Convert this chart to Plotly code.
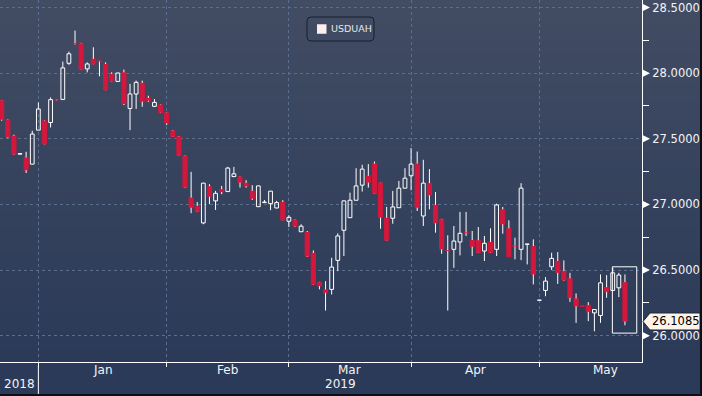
import plotly.graph_objects as go

# ---------------- data ----------------
opens = [27.790, 27.645, 27.523, 27.383, 27.357, 27.307, 27.566, 27.637, 27.624, 27.800,
         27.800, 28.075, 28.230, 28.227, 28.032, 28.108, 28.093, 28.070, 27.994, 27.937,
         28.006, 27.731, 27.841, 27.925, 27.811, 27.747, 27.759, 27.698, 27.561, 27.517,
         27.370, 27.052, 26.989, 26.859, 27.139, 27.027, 27.116, 27.098, 27.212, 27.210,
         27.164, 27.103, 26.983, 27.014, 27.006, 26.973, 27.019, 26.872, 26.882, 26.792,
         26.790, 26.630, 26.408, 26.353, 26.353, 26.574, 26.803, 26.899, 27.032, 27.147,
         27.218, 27.311, 27.164, 26.899, 26.895, 26.975, 27.124, 27.218, 27.311, 26.912,
         27.162, 26.996, 26.887, 26.653, 26.658, 26.714, 26.787, 26.729, 26.727, 26.645,
         26.714, 26.658, 26.963, 26.818, 26.686, 26.658, 26.696, 26.683, 26.270, 26.345,
         26.525, 26.569, 26.492, 26.437, 26.284, 26.228, 26.233, 26.174, 26.154, 26.370,
         26.345, 26.365, 26.408]
highs = [27.792, 27.648, 27.531, 27.390, 27.401, 27.561, 27.777, 27.640, 27.815, 27.802,
         28.088, 28.164, 28.324, 28.230, 28.082, 28.197, 28.095, 28.082, 28.006, 28.003,
         28.027, 27.918, 27.943, 27.943, 27.828, 27.803, 27.762, 27.700, 27.565, 27.520,
         27.373, 27.248, 27.019, 27.165, 27.154, 27.103, 27.141, 27.286, 27.286, 27.212,
         27.185, 27.147, 27.143, 27.034, 27.103, 27.027, 27.032, 26.918, 26.885, 26.849,
         26.798, 26.650, 26.410, 26.416, 26.594, 26.780, 27.030, 27.090, 27.276, 27.302,
         27.307, 27.327, 27.166, 26.981, 27.103, 27.179, 27.276, 27.429, 27.403, 27.340,
         27.269, 27.095, 26.890, 26.765, 26.836, 26.943, 26.943, 26.798, 26.828, 26.760,
         26.818, 27.006, 26.981, 26.879, 26.747, 27.162, 26.700, 26.734, 26.273, 26.447,
         26.632, 26.637, 26.574, 26.479, 26.322, 26.229, 26.256, 26.202, 26.467, 26.462,
         26.518, 26.479, 26.467]
lows = [27.637, 27.505, 27.380, 27.380, 27.240, 27.305, 27.565, 27.458, 27.586, 27.793,
        27.798, 28.063, 28.218, 28.025, 28.006, 28.068, 27.976, 27.870, 27.935, 27.935,
        27.757, 27.566, 27.727, 27.744, 27.782, 27.745, 27.696, 27.605, 27.515, 27.373,
        27.125, 26.933, 26.943, 26.849, 27.002, 26.958, 27.078, 27.095, 27.210, 27.128,
        27.128, 27.034, 26.980, 27.012, 26.956, 26.970, 26.880, 26.828, 26.830, 26.790,
        26.600, 26.388, 26.353, 26.192, 26.314, 26.492, 26.607, 26.897, 27.030, 27.098,
        27.128, 27.080, 26.815, 26.725, 26.853, 26.973, 27.122, 27.108, 26.950, 26.836,
        26.963, 26.785, 26.624, 26.192, 26.517, 26.612, 26.760, 26.607, 26.630, 26.569,
        26.630, 26.607, 26.777, 26.600, 26.582, 26.576, 26.543, 26.391, 26.268, 26.301,
        26.500, 26.395, 26.420, 26.258, 26.098, 26.221, 26.111, 26.034, 26.098, 26.289,
        26.343, 26.294, 26.080]
closes = [27.645, 27.510, 27.383, 27.387, 27.261, 27.536, 27.727, 27.460, 27.798, 27.795,
          28.040, 28.147, 28.224, 28.027, 28.070, 28.070, 28.087, 27.872, 27.937, 28.001,
          27.765, 27.841, 27.930, 27.782, 27.790, 27.777, 27.698, 27.617, 27.517, 27.375,
          27.128, 26.975, 26.945, 27.162, 27.059, 27.085, 27.095, 27.277, 27.233, 27.166,
          27.139, 27.044, 27.141, 27.018, 27.101, 27.014, 26.882, 26.902, 26.834, 26.834,
          26.604, 26.391, 26.378, 26.327, 26.523, 26.760, 27.027, 27.032, 27.141, 27.269,
          27.166, 27.082, 26.899, 26.727, 26.981, 27.124, 27.200, 27.307, 26.975, 27.162,
          27.070, 26.857, 26.658, 26.647, 26.721, 26.780, 26.781, 26.678, 26.632, 26.704,
          26.632, 26.996, 26.849, 26.601, 26.680, 27.124, 26.699, 26.467, 26.272, 26.416,
          26.589, 26.479, 26.424, 26.289, 26.225, 26.222, 26.182, 26.200, 26.403, 26.334,
          26.479, 26.462, 26.1085]

month_starts = [7, 28, 48, 68, 89]          # trading-day index of first session of each month
month_names = ["Jan", "Feb", "Mar", "Apr", "May"]
month_label_pos = [17.5, 38.0, 58.0, 78.5, 99.8]
year_names = ["2018", "2019"]
series_name = "USDUAH"
last_label = "26.1085"
y_ticks = [26.0, 26.5, 27.0, 27.5, 28.0, 28.5]

# ---------------- styling ----------------
RED = "#d4173c"
WHITE = "#ffffff"
TXT = "#f4f4f4"
GRID = "#5b6e8e"
FONT = "DejaVu Sans"
W, H = 702, 396
ML, MR, MT, MB = 0, 60, 0, 34
PW, PH = W - ML - MR, H - MT - MB
X_RANGE = [0.722, 105.79]
Y_RANGE = [25.80, 28.557]

idx = list(range(1, len(opens) + 1))
up = [i for i in range(len(opens)) if closes[i] >= opens[i]]
dn = [i for i in range(len(opens)) if closes[i] < opens[i]]

# wicks (above and below the body)
wx, wy = [], []
for i, (o, h, l, c) in enumerate(zip(opens, highs, lows, closes)):
    top, bot = max(o, c), min(o, c)
    x = idx[i]
    wx += [x, x, None, x, x, None]
    wy += [h, top, None, bot, l, None]

fig = go.Figure()
fig.add_trace(go.Scatter(x=wx, y=wy, mode="lines", line=dict(color=WHITE, width=1),
                         hoverinfo="skip", showlegend=False))
fig.add_trace(go.Bar(x=[idx[i] for i in up], y=[closes[i] - opens[i] for i in up],
                     base=[opens[i] for i in up], width=0.62, name=series_name,
                     marker=dict(color="rgba(0,0,0,0)", line=dict(color=WHITE, width=1)),
                     showlegend=False))
fig.add_trace(go.Bar(x=[idx[i] for i in dn], y=[opens[i] - closes[i] for i in dn],
                     base=[closes[i] for i in dn], width=0.68, name=series_name,
                     marker=dict(color=RED, line=dict(color=RED, width=1)),
                     showlegend=False))

shapes = []
# background gradient
def lerp(a, b, t):
    return tuple(round(a[k] + (b[k] - a[k]) * t) for k in range(3))
top_c, bot_c = (66, 76, 99), (43, 58, 88)
nb = 60
for b in range(nb):
    p0 = b * PH / nb
    p1 = (b + 1) * PH / nb
    c = lerp(top_c, bot_c, (b + 0.5) / nb)
    shapes.append(dict(type="rect", xref="paper", yref="paper", x0=-0.01, x1=W / PW + 0.01,
                       y0=1 - p1 / PH - 0.001, y1=1 - p0 / PH + (0.01 if b == 0 else 0.001),
                       fillcolor="rgb(%d,%d,%d)" % c, line=dict(width=0), layer="below"))
shapes.append(dict(type="rect", xref="paper", yref="paper", x0=-0.01, x1=W / PW + 0.01,
                   y0=-MB / PH - 0.01, y1=0, fillcolor="rgb(%d,%d,%d)" % bot_c,
                   line=dict(width=0), layer="below"))

# y tick arrows
for v in y_ticks:
    shapes.append(dict(type="path", xref="paper", yref="y", xsizemode="pixel", ysizemode="pixel",
                       xanchor=1, yanchor=v, path="M 1 -3.5 L 8 0 L 1 3.5 Z",
                       fillcolor=WHITE, line=dict(width=0)))

# year separator
shapes.append(dict(type="line", xref="x", yref="paper", x0=month_starts[0], x1=month_starts[0],
                   y0=-4 / PH, y1=-MB / PH, line=dict(color=WHITE, width=1)))

# highlight box around the last three sessions
shapes.append(dict(type="rect", xref="x", yref="y", x0=idx[-3] - 0.06, x1=idx[-1] + 1.93,
                   y0=min(lows[-3:]) - 0.06, y1=max(highs[-3:]) + 0.007,
                   line=dict(color=WHITE, width=1), fillcolor="rgba(0,0,0,0)"))

# last price callout
shapes.append(dict(type="path", xref="paper", yref="y", xsizemode="pixel", ysizemode="pixel",
                   xanchor=1, yanchor=closes[-1],
                   path="M 1 0 L 8 -8.5 L 58 -8.5 L 58 8.5 L 8 8.5 Z",
                   fillcolor="#fff4ea", line=dict(color="#20283a", width=1)))

# legend box (rounded) with swatch
LCX, LCY = 340.5 / PW, 1 - 29 / PH
shapes.append(dict(type="path", xref="paper", yref="paper", xsizemode="pixel", ysizemode="pixel",
                   xanchor=LCX, yanchor=LCY,
                   path=("M -29.5 -12 L 29.5 -12 Q 33.5 -12 33.5 -8 L 33.5 8 Q 33.5 12 29.5 12 "
                         "L -29.5 12 Q -33.5 12 -33.5 8 L -33.5 -8 Q -33.5 -12 -29.5 -12 Z"),
                   fillcolor="rgba(0,0,0,0)", line=dict(color="#181e2c", width=1)))
shapes.append(dict(type="rect", xref="paper", yref="paper", xsizemode="pixel", ysizemode="pixel",
                   xanchor=LCX, yanchor=LCY, x0=-23.5, x1=-14, y0=-4.75, y1=4.75,
                   fillcolor="#fcefed", line=dict(width=0)))

# dark frame at right and bottom edges
shapes.append(dict(type="rect", xref="paper", yref="paper", x0=(W - 2) / PW, x1=W / PW + 0.01,
                   y0=-MB / PH - 0.01, y1=1.01, fillcolor="#0b0f18", line=dict(width=0)))
shapes.append(dict(type="rect", xref="paper", yref="paper", x0=-0.01, x1=W / PW + 0.01,
                   y0=-MB / PH - 0.01, y1=-(MB - 2) / PH, fillcolor="#0b0f18", line=dict(width=0)))

annotations = []
for name, pos in zip(month_names, month_label_pos):
    annotations.append(dict(x=pos, y=-8 / PH, xref="x", yref="paper", text=name, showarrow=False,
                            yanchor="middle", font=dict(family=FONT, size=12, color=TXT)))
annotations.append(dict(x=(X_RANGE[0] + month_starts[0]) / 2, y=-22 / PH, xref="x", yref="paper",
                        text=year_names[0], showarrow=False, yanchor="middle",
                        font=dict(family=FONT, size=12, color=TXT)))
annotations.append(dict(x=(X_RANGE[1] + month_starts[0]) / 2, y=-22 / PH, xref="x", yref="paper",
                        text=year_names[1], showarrow=False, yanchor="middle",
                        font=dict(family=FONT, size=12, color=TXT)))
annotations.append(dict(x=1 + 8 / PW, y=closes[-1], xref="paper", yref="y", text=last_label,
                        showarrow=False, xanchor="left", yanchor="middle",
                        font=dict(family=FONT, size=11.5, color="#000000")))
annotations.append(dict(x=329 / PW, y=LCY, xref="paper", yref="paper", text=series_name,
                        showarrow=False, xanchor="left", yanchor="middle",
                        font=dict(family=FONT, size=9.5, color="#e6e6e6")))

fig.update_layout(
    width=W, height=H,
    margin=dict(l=ML, r=MR, t=MT, b=MB, pad=0),
    paper_bgcolor="rgb(%d,%d,%d)" % bot_c,
    plot_bgcolor="rgba(0,0,0,0)",
    barmode="overlay",
    showlegend=False,
    shapes=shapes,
    annotations=annotations,
    xaxis=dict(range=X_RANGE, tickvals=month_starts, ticktext=[""] * len(month_starts),
               showgrid=True, gridcolor=GRID, griddash="3px,3px", gridwidth=1,
               showline=True, linecolor=WHITE, linewidth=1, ticks="outside", ticklen=4,
               tickcolor=WHITE, zeroline=False, fixedrange=True),
    yaxis=dict(range=Y_RANGE, side="right", tick0=0, dtick=0.5, tickformat=".4f",
               showgrid=True, gridcolor=GRID, griddash="3px,3px", gridwidth=1,
               showline=True, linecolor=WHITE, linewidth=1,
               ticks="outside", ticklen=7, tickcolor="rgba(0,0,0,0)",
               minor=dict(ticks="outside", ticklen=6, tickcolor=WHITE, tickwidth=1,
                          dtick=0.25, tick0=0, showgrid=False),
               tickfont=dict(family=FONT, size=11.5, color=TXT), zeroline=False, fixedrange=True),
)

fig.write_html("out.html", config={"displayModeBar": False},
               post_script="document.body.style.margin='0';document.body.style.overflow='hidden';")
